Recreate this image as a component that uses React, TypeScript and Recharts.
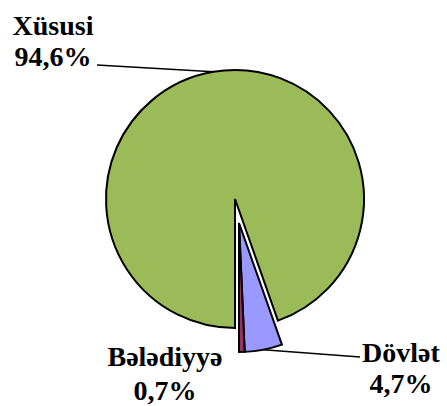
import { PieChart, Pie, Cell } from 'recharts'

const categories = ['Xüsusi', 'Dövlət', 'Bələdiyyə']
const shares = [94.6, 4.7, 0.7]
const shareLabels = ['94,6%', '4,7%', '0,7%']
const colors = ['#9BBB59', '#9999FF', '#993366']
const exploded = [false, true, true]

const data = categories.map((name, i) => ({ name, value: shares[i] }))

// label placement relative to the pie centre (main or exploded)
const LABEL_LAYOUT = [
  { dx: -182, dy: -164, gap: 31, line: [-138, -134] as [number, number] | null },
  { dx: 162, dy: 139, gap: 31, line: [121, 134] as [number, number] | null },
  { dx: -74, dy: 143, gap: 34, line: null },
]

const RAD = Math.PI / 180

function renderLabel(forExploded: boolean) {
  return (props: any) => {
    const { cx, cy, midAngle, outerRadius, index } = props
    if (exploded[index] !== forExploded) return <g key={`lbl-${index}`} />
    const l = LABEL_LAYOUT[index]
    const px = cx + outerRadius * Math.cos(-midAngle * RAD)
    const py = cy + outerRadius * Math.sin(-midAngle * RAD)
    return (
      <g key={`lbl-${index}`}>
        {l.line && (
          <line x1={px} y1={py} x2={cx + l.line[0]} y2={cy + l.line[1]} stroke="#000" strokeWidth={1.5} />
        )}
        <text
          x={cx + l.dx}
          y={cy + l.dy}
          textAnchor="middle"
          fill="#000"
          style={{ fontFamily: "'Liberation Serif'", fontWeight: 'bold', fontSize: 28 }}
        >
          {categories[index]}
        </text>
        <text
          x={cx + l.dx}
          y={cy + l.dy + l.gap}
          textAnchor="middle"
          fill="#000"
          style={{ fontFamily: "'Liberation Serif'", fontWeight: 'bold', fontSize: 28 }}
        >
          {shareLabels[index]}
        </text>
      </g>
    )
  }
}

export default function App() {
  return (
    <div style={{ position: 'absolute', left: 0, top: 0, width: 447, height: 406, background: '#fff' }}>
      <PieChart width={447} height={406} margin={{ top: 0, right: 0, bottom: 0, left: 0 }}>
        <Pie
          data={data}
          dataKey="value"
          cx={235}
          cy={199}
          outerRadius={129}
          startAngle={-90}
          endAngle={-450}
          isAnimationActive={false}
          label={renderLabel(false)}
          labelLine={false}
        >
          {data.map((_, i) => (
            <Cell
              key={i}
              fill={exploded[i] ? 'none' : colors[i]}
              stroke={exploded[i] ? 'none' : '#000'}
              strokeWidth={2}
            />
          ))}
        </Pie>
        <Pie
          data={data}
          dataKey="value"
          cx={239}
          cy={223}
          outerRadius={129}
          startAngle={-90}
          endAngle={-450}
          isAnimationActive={false}
          label={renderLabel(true)}
          labelLine={false}
        >
          {data.map((_, i) => (
            <Cell
              key={i}
              fill={exploded[i] ? colors[i] : 'none'}
              stroke={exploded[i] ? '#000' : 'none'}
              strokeWidth={2}
            />
          ))}
        </Pie>
      </PieChart>
    </div>
  )
}
